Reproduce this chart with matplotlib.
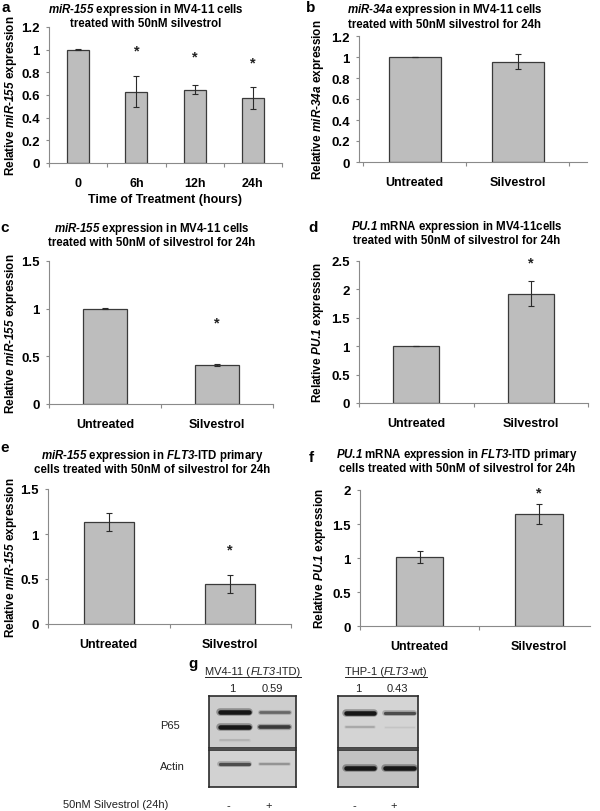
import matplotlib
matplotlib.use('Agg')
import matplotlib.pyplot as plt
import matplotlib.transforms as mtransforms
from matplotlib.lines import Line2D
from matplotlib.ticker import FormatStrFormatter, MultipleLocator, FixedLocator

plt.rcParams['font.family'] = 'Liberation Sans'
plt.rcParams['font.weight'] = 'bold'
plt.rcParams['axes.labelweight'] = 'bold'
plt.rcParams['mathtext.fontset'] = 'custom'
# math parts are only used for the gene names -> bold italic, digits included
plt.rcParams['mathtext.rm'] = 'Liberation Sans:italic:bold'
plt.rcParams['mathtext.bf'] = 'Liberation Sans:italic:bold'
plt.rcParams['mathtext.it'] = 'Liberation Sans:italic:bold'

# ---- data ----
time_points = ['0', '6h', '12h', '24h']
mir155_time = [1.0, 0.63, 0.645, 0.575]
mir155_time_err = [0.004, 0.14, 0.04, 0.10]
mir155_time_star = [None, 0.99, 0.94, 0.89]

groups = ['Untreated', 'Silvestrol']
mir34a_mv4 = [1.0, 0.955]
mir34a_mv4_err = [0.004, 0.07]
mir34a_mv4_star = [None, None]

mir155_mv4 = [1.0, 0.41]
mir155_mv4_err = [0.006, 0.012]
mir155_mv4_star = [None, 0.86]

pu1_mv4 = [1.0, 1.92]
pu1_mv4_err = [0.0, 0.22]
pu1_mv4_star = [None, 2.48]

mir155_prim = [1.13, 0.44]
mir155_prim_err = [0.10, 0.10]
mir155_prim_star = [None, 0.83]

pu1_prim = [1.01, 1.65]
pu1_prim_err = [0.09, 0.15]
pu1_prim_star = [None, 1.97]

# western blot (panel g)
treatment = ['-', '+']
mv4_p65_ratio = [1, 0.59]
thp1_p65_ratio = [1, 0.43]
# band darkness per lane, one row per band (0 = none, 1 = black)
mv4_p65_bands = [[0.95, 0.45], [0.95, 0.7], [0.12, 0.0]]
mv4_actin_bands = [[0.6, 0.25]]
thp1_p65_bands = [[0.95, 0.6], [0.18, 0.06]]
thp1_actin_bands = [[0.95, 0.95]]

W, H = 600, 812
fig = plt.figure(figsize=(6, 8.12), dpi=100)
renderer = fig.canvas.get_renderer()

MIR155 = r'$miR$-$155$'
MIR34A = r'$miR$-$34a$'
PU1 = r'$PU$.$1$'
FLT3 = r'$FLT3$'


def rect(left, top, right, bottom):
    return [left / W, 1 - bottom / H, (right - left) / W, (bottom - top) / H]


def ftext(x, y, s, **kw):
    return fig.text(x / W, 1 - y / H, s, **kw)


def seg_text(xc, y, parts, **kw):
    # centred line made of pieces with different font styles
    texts = [ftext(0, y, s, fontstyle=st, **kw) for s, st in parts]
    widths = [t.get_window_extent(renderer).width for t in texts]
    x = xc - sum(widths) / 2
    for t, w in zip(texts, widths):
        t.set_x(x / W)
        x += w
    return xc - sum(widths) / 2, xc + sum(widths) / 2


def bar_panel(box, xlim, cats, vals, errs, stars, ymax, ystep, width, ylabel, label_x):
    ax = fig.add_axes(rect(*box))
    x = list(range(len(cats)))
    ax.bar(x, vals, width=width, color='#bdbdbd', edgecolor='#3a3a3a', linewidth=0.9, zorder=2)
    ax.errorbar(x, vals, yerr=errs, fmt='none', ecolor='#2a2a2a', elinewidth=0.8,
                capsize=2.5, capthick=0.8, zorder=3)
    for xi, s in zip(x, stars):
        if s is not None:
            ax.text(xi, s, '*', ha='center', va='center', fontsize=10.5, fontweight='bold',
                    color='#222222')
    ax.set_xlim(*xlim)
    ax.set_ylim(0, ymax)
    ax.yaxis.set_major_locator(MultipleLocator(ystep))
    ax.yaxis.set_major_formatter(FormatStrFormatter('%g'))
    ax.set_xticks(x)
    ax.set_xticklabels(cats)
    ax.xaxis.set_minor_locator(FixedLocator([i - 0.5 for i in range(len(cats) + 1)]))
    for side in ['top', 'right']:
        ax.spines[side].set_visible(False)
    for side in ['left', 'bottom']:
        ax.spines[side].set_color('#8a8a8a')
        ax.spines[side].set_linewidth(0.8)
    ax.tick_params(axis='y', length=2.5, width=0.8, color='#8a8a8a', pad=4, labelsize=9.5)
    ax.tick_params(axis='x', which='major', length=0, pad=10, labelsize=9)
    ax.tick_params(axis='x', which='minor', length=3, width=0.8, color='#8a8a8a')
    ax.set_ylabel(ylabel, fontsize=8.5)
    yc = (box[1] + box[3]) / 2
    ax.yaxis.set_label_coords(label_x / W, 1 - yc / H, transform=fig.transFigure)
    return ax


# a
ax_a = bar_panel((49, 28, 282, 164), (-0.5, 3.5), time_points, mir155_time, mir155_time_err,
                 mir155_time_star, 1.2, 0.2, 0.38,
                 'Relative ' + MIR155 + ' expression', 19)
ax_a.set_xlabel('Time of Treatment (hours)', fontsize=9, labelpad=3)
ftext(1, 12, 'a', fontsize=11)
ftext(146, 13, MIR155 + ' expression in MV4-11 cells', fontsize=8.3, ha='center')
ftext(146, 27, 'treated with 50nM silvestrol', fontsize=8.3, ha='center')

# b
bar_panel((359, 37, 587, 163), (-0.54, 1.67), groups, mir34a_mv4, mir34a_mv4_err,
          mir34a_mv4_star, 1.2, 0.2, 0.5,
          'Relative ' + MIR34A + ' expression', 326)
ftext(306, 12, 'b', fontsize=11)
ftext(445, 13, MIR34A + ' expression in MV4-11 cells', fontsize=8.3, ha='center')
ftext(445, 28, 'treated with 50nM silvestrol for 24h', fontsize=8.3, ha='center')

# c
bar_panel((49, 262, 273, 405), (-0.5, 1.5), groups, mir155_mv4, mir155_mv4_err,
          mir155_mv4_star, 1.5, 0.5, 0.39,
          'Relative ' + MIR155 + ' expression', 19)
ftext(0, 232, 'c', fontsize=11)
ftext(152, 232, MIR155 + ' expression in MV4-11 cells', fontsize=8.3, ha='center')
ftext(152, 246, 'treated with 50nM of silvestrol for 24h', fontsize=8.3, ha='center')

# d
bar_panel((359, 262, 588, 404), (-0.5, 1.5), groups, pu1_mv4, pu1_mv4_err,
          pu1_mv4_star, 2.5, 0.5, 0.4,
          'Relative ' + PU1 + ' expression', 326)
ftext(308, 232, 'd', fontsize=11)
ftext(457, 230, PU1 + ' mRNA expression in MV4-11cells', fontsize=8.3, ha='center')
ftext(457, 244, 'treated with 50nM of silvestrol for 24h', fontsize=8.3, ha='center')

# e
bar_panel((48, 490, 291, 625), (-0.5, 1.5), groups, mir155_prim, mir155_prim_err,
          mir155_prim_star, 1.5, 0.5, 0.41,
          'Relative ' + MIR155 + ' expression', 19)
ftext(0, 452, 'e', fontsize=11)
ftext(152, 459, MIR155 + ' expression in ' + FLT3 + '-ITD primary', fontsize=8.3, ha='center')
ftext(152, 473, 'cells treated with 50nM of silvestrol for 24h', fontsize=8.3, ha='center')

# f
bar_panel((360, 491, 590, 627), (-0.5, 1.43), groups, pu1_prim, pu1_prim_err,
          pu1_prim_star, 2.0, 0.5, 0.4,
          'Relative ' + PU1 + ' expression', 328)
ftext(309, 462, 'f', fontsize=11)
ftext(457, 458, PU1 + ' mRNA expression in ' + FLT3 + '-ITD primary', fontsize=8.3, ha='center')
ftext(457, 472, 'cells treated with 50nM of silvestrol for 24h', fontsize=8.3, ha='center')


# g : western blots
def gel(box, xlim, rows, row_y, bg):
    ax = fig.add_axes(rect(*box))
    ax.set_xlim(*xlim)
    ax.set_ylim(1, 0)
    ax.set_facecolor(bg)
    ax.set_xticks([])
    ax.set_yticks([])
    for sp in ax.spines.values():
        sp.set_color('#2b2b2b')
        sp.set_linewidth(1.2)
    for y, row in zip(row_y, rows):
        for lane, d in enumerate(row):
            if d > 0:
                # soft halo then core, to mimic a blurred band
                ax.plot([lane - 0.36, lane + 0.36], [y, y], color='#101010', alpha=d * 0.35,
                        lw=2.0 + 3.6 * d, solid_capstyle='round')
                ax.plot([lane - 0.36, lane + 0.36], [y, y], color='#101010', alpha=d,
                        lw=0.8 + 2.6 * d, solid_capstyle='round')
    return ax


g_left = gel((209, 697, 296, 749), (-0.64, 1.54), mv4_p65_bands, [0.31, 0.60, 0.85], '#cdcdcd')
gel((209, 751, 296, 788), (-0.64, 1.54), mv4_actin_bands, [0.38], '#d2d2d2')
g_right = gel((338, 697, 418, 749), (-0.56, 1.47), thp1_p65_bands, [0.33, 0.60], '#d4d4d4')
gel((338, 751, 418, 788), (-0.56, 1.47), thp1_actin_bands, [0.49], '#c2c2c2')

for ax_g, ratios in [(g_left, mv4_p65_ratio), (g_right, thp1_p65_ratio)]:
    tr = mtransforms.blended_transform_factory(ax_g.transData, fig.transFigure)
    for lane, r in enumerate(ratios):
        ax_g.text(lane - 0.05, 1 - 692 / H, '%g' % r, transform=tr, ha='center', va='baseline',
                  fontsize=8, fontweight='normal', color='#222222')
    for lane, t in enumerate(treatment):
        ax_g.text(lane - 0.15, 1 - 806 / H, t, transform=tr, ha='center', va='center',
                  fontsize=8, fontweight='normal', color='#222222')

ftext(188, 668, 'g', fontsize=11)
ftext(160, 729, 'P65', fontsize=8, fontweight='normal', color='#222222')
ftext(160, 770, 'Actin', fontsize=8, fontweight='normal', color='#222222')
ftext(63, 808, '50nM Silvestrol (24h)', fontsize=8, fontweight='normal', color='#222222')

hdr_kw = dict(fontsize=8, fontweight='normal', color='#222222')
for xc, parts in [(253, [('MV4-11 (', 'normal'), ('FLT3', 'italic'), ('-ITD)', 'normal')]),
                  (386, [('THP-1 (', 'normal'), ('FLT3', 'italic'), ('-wt)', 'normal')])]:
    x0, x1 = seg_text(xc, 675, parts, **hdr_kw)
    y = 1 - 678 / H
    fig.add_artist(Line2D([x0 / W, x1 / W], [y, y], transform=fig.transFigure,
                          color='#222222', lw=0.7))

fig.savefig('out.png', dpi=100)
